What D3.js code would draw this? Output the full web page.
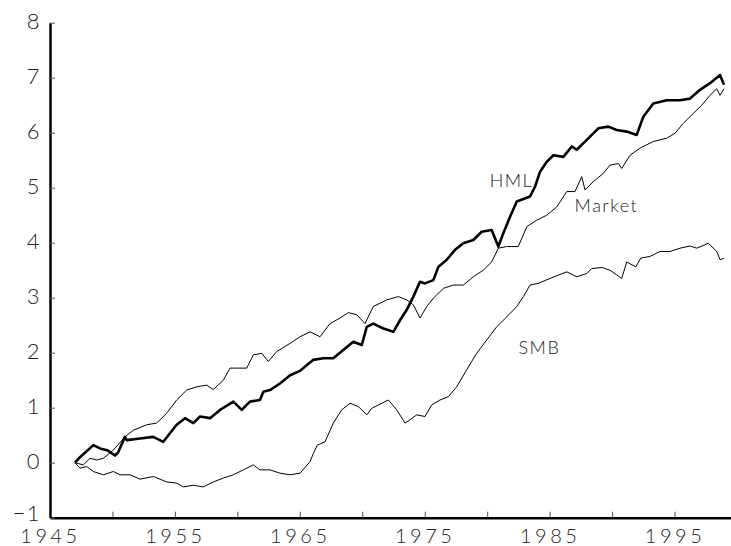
<!DOCTYPE html>
<html>
<head>
<meta charset="utf-8">
<script src="https://cdn.jsdelivr.net/npm/d3@7"></script>
<style>
  body { margin: 0; background: #fff; }
  svg text { font-family: Lato, "DejaVu Sans", sans-serif; font-weight: 300; fill: #222; }
</style>
</head>
<body>
<script>
// cumulative series (year, value)
const hmlYears = [1947.00,1947.40,1948.47,1949.00,1949.64,1950.20,1950.44,1951.00,1951.14,1952.21,1953.27,1954.07,1955.14,1955.81,1956.47,1957.01,1957.81,1958.61,1959.68,1960.35,1961.01,1961.81,1962.08,1962.61,1963.41,1964.22,1965.02,1966.08,1966.88,1967.68,1968.48,1969.28,1969.96,1970.36,1970.88,1971.69,1972.49,1973.02,1973.56,1974.09,1974.62,1975.02,1975.69,1976.09,1976.76,1977.43,1978.09,1978.89,1979.56,1980.36,1980.89,1981.29,1981.83,1982.37,1983.43,1983.83,1984.23,1984.77,1985.30,1986.10,1986.77,1987.17,1987.97,1988.90,1989.70,1990.37,1991.17,1991.97,1992.50,1993.30,1994.37,1995.44,1996.24,1997.04,1997.84,1998.64,1998.96];
const hmlValues = [0,0.10,0.32,0.26,0.22,0.13,0.18,0.47,0.41,0.44,0.47,0.38,0.69,0.81,0.72,0.84,0.81,0.96,1.11,0.96,1.11,1.14,1.29,1.32,1.44,1.59,1.67,1.87,1.90,1.90,2.05,2.20,2.14,2.47,2.53,2.44,2.38,2.59,2.78,3.02,3.29,3.26,3.32,3.56,3.69,3.87,3.99,4.05,4.20,4.23,3.93,4.17,4.47,4.75,4.84,5.02,5.29,5.47,5.59,5.56,5.75,5.69,5.87,6.08,6.11,6.05,6.02,5.96,6.29,6.53,6.59,6.59,6.62,6.78,6.90,7.05,6.87];

const mktYears = [1947.00,1947.67,1948.20,1948.74,1949.27,1950.07,1951.00,1951.67,1952.74,1953.54,1954.34,1955.14,1955.94,1956.75,1957.55,1958.07,1958.88,1959.41,1960.21,1960.75,1961.28,1961.95,1962.48,1963.15,1964.22,1965.02,1965.82,1966.62,1967.42,1968.22,1968.88,1969.56,1970.22,1970.88,1971.96,1972.89,1973.56,1974.09,1974.62,1975.16,1975.69,1976.49,1977.29,1978.09,1978.89,1979.69,1980.36,1980.89,1981.56,1982.49,1983.17,1983.97,1984.77,1985.57,1986.37,1987.03,1987.57,1987.83,1988.50,1989.30,1989.83,1990.50,1990.77,1991.44,1992.24,1993.30,1994.37,1995.04,1995.70,1996.50,1997.18,1997.84,1998.38,1998.64,1998.96];
const mktValues = [0,-0.04,0.08,0.05,0.08,0.23,0.47,0.59,0.69,0.72,0.90,1.14,1.32,1.38,1.41,1.33,1.50,1.72,1.72,1.72,1.96,1.99,1.84,2.02,2.17,2.29,2.38,2.29,2.53,2.63,2.73,2.69,2.53,2.84,2.96,3.02,2.96,2.87,2.63,2.84,2.99,3.17,3.23,3.23,3.38,3.50,3.65,3.90,3.93,3.93,4.29,4.41,4.50,4.65,4.93,4.93,5.20,4.96,5.11,5.26,5.41,5.44,5.35,5.59,5.72,5.84,5.90,5.99,6.17,6.35,6.50,6.68,6.80,6.68,6.80];

const smbYears = [1947.00,1947.40,1947.94,1948.47,1949.27,1950.07,1950.60,1951.41,1952.21,1953.27,1954.34,1955.14,1955.67,1956.47,1957.27,1958.07,1958.88,1959.68,1960.48,1961.28,1961.81,1962.61,1963.41,1964.22,1965.02,1965.82,1966.05,1966.40,1967.02,1967.68,1968.35,1969.02,1969.69,1970.36,1970.76,1971.29,1972.09,1972.76,1973.42,1973.82,1974.36,1975.02,1975.56,1976.22,1976.89,1977.56,1978.36,1979.16,1979.96,1980.76,1981.56,1982.37,1982.90,1983.43,1984.09,1985.03,1986.37,1987.17,1987.97,1988.37,1989.17,1989.83,1990.77,1991.17,1991.90,1992.30,1993.03,1993.83,1994.64,1995.44,1996.24,1996.78,1997.71,1998.10,1998.38,1998.64,1998.96];
const smbValues = [0,-0.10,-0.07,-0.16,-0.22,-0.16,-0.22,-0.22,-0.30,-0.25,-0.35,-0.37,-0.44,-0.41,-0.44,-0.35,-0.28,-0.22,-0.13,-0.04,-0.13,-0.13,-0.19,-0.22,-0.19,0.02,0.15,0.32,0.38,0.72,0.96,1.08,1.02,0.87,0.99,1.05,1.14,0.96,0.72,0.78,0.87,0.84,1.05,1.14,1.20,1.38,1.69,1.99,2.23,2.47,2.65,2.84,3.02,3.23,3.26,3.35,3.47,3.38,3.44,3.53,3.55,3.50,3.35,3.65,3.56,3.72,3.75,3.84,3.84,3.90,3.94,3.90,3.99,3.90,3.84,3.69,3.72];

const seriesNames = ["HML", "Market", "SMB"];
const xTicks = [1945,1950,1955,1960,1965,1970,1975,1980,1985,1990,1995,2000];
const xTickLabels = ["1945","","1955","","1965","","1975","","1985","","1995",""];
const yTicks = [-1,0,1,2,3,4,5,6,7,8];
const yTickLabels = ["\u22121","0","1","2","3","4","5","6","7","8"];

const width = 731, height = 546;
const svg = d3.select("body").append("svg")
  .attr("width", width).attr("height", height);

const x = d3.scaleLinear().domain([1945, 2000]).range([50, 737]);
const y = d3.scaleLinear().domain([-1, 8]).range([517.7, 22.7]);

// axes
const xAxis = svg.append("g")
  .attr("transform", `translate(0,${y(-1)})`)
  .call(d3.axisBottom(x).tickValues(xTicks).tickSize(-6).tickSizeOuter(0).tickPadding(11)
    .tickFormat((d, i) => xTickLabels[i]));
xAxis.select(".domain").attr("stroke", "#000").attr("stroke-width", 2.5);
xAxis.selectAll(".tick line").attr("stroke", "#555");
xAxis.selectAll("text").style("font-size", "20px").attr("letter-spacing", "3.5px");

const yAxis = svg.append("g")
  .attr("transform", `translate(${x(1945)},0)`)
  .call(d3.axisLeft(y).tickValues(yTicks).tickSize(-5).tickSizeOuter(0).tickPadding(9)
    .tickFormat((d, i) => yTickLabels[i]));
yAxis.select(".domain").attr("stroke", "#000").attr("stroke-width", 2.5);
yAxis.selectAll(".tick line").attr("stroke", "#555");
yAxis.selectAll("text").style("font-size", "22px").attr("letter-spacing", "1.5px")
  .attr("dy", (d, i) => i === 0 ? "0.12em" : "0.28em");

// lines
const line = d3.line().x(d => x(d[0])).y(d => y(d[1]));
const series = [
  { name: "HML", pts: d3.zip(hmlYears, hmlValues), w: 2.6 },
  { name: "Market", pts: d3.zip(mktYears, mktValues), w: 1 },
  { name: "SMB", pts: d3.zip(smbYears, smbValues), w: 1 }
];
svg.append("g").selectAll("path")
  .data(series)
  .join("path")
  .attr("fill", "none")
  .attr("stroke", "#000")
  .attr("stroke-width", d => d.w)
  .attr("stroke-linejoin", "round")
  .attr("d", d => line(d.pts));

// series labels
const labelPos = [[1980.2, 5.01], [1987.0, 4.56], [1982.5, 1.98]];
svg.append("g").selectAll("text")
  .data(seriesNames)
  .join("text")
  .attr("x", (d, i) => x(labelPos[i][0]))
  .attr("y", (d, i) => y(labelPos[i][1]))
  .style("font-size", "18px")
  .attr("letter-spacing", "1.5px")
  .text(d => d);
</script>
</body>
</html>
